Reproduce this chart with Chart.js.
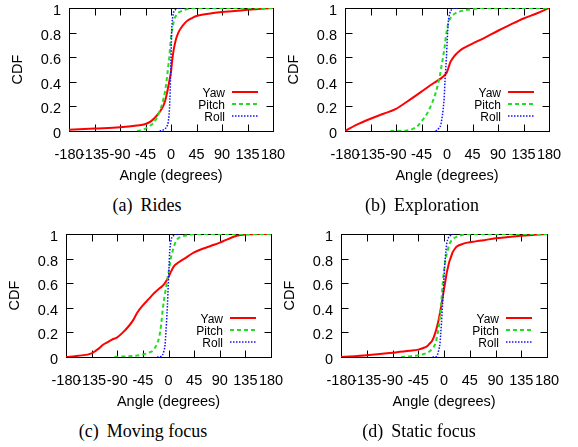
<!DOCTYPE html>
<html>
<head>
<meta charset="utf-8">
<script src="https://cdn.jsdelivr.net/npm/chart.js@4.4.1/dist/chart.umd.min.js"></script>
<style>
  body { margin: 0; background: #fff; }
  #wrap { position: relative; width: 578px; height: 447px; overflow: hidden; }
  canvas { position: absolute; }
  .cap { position: absolute; transform: translate(-50%, -50%); font: 18px 'Liberation Serif', serif; white-space: nowrap; color: #000; }
  .cap span { margin-right: 0.45em; }
</style>
</head>
<body>
<div id="wrap">
  <canvas id="rides" width="289" height="194" style="left:0px;top:-4px"></canvas>
  <canvas id="exploration" width="289" height="194" style="left:276px;top:-4px"></canvas>
  <canvas id="moving" width="290" height="194" style="left:-3px;top:222px"></canvas>
  <canvas id="static" width="291" height="194" style="left:272px;top:222px"></canvas>
  <div class="cap" style="left:147px;top:205px"><span>(a)</span>Rides</div>
  <div class="cap" style="left:422px;top:205px"><span>(b)</span>Exploration</div>
  <div class="cap" style="left:143px;top:431px"><span>(c)</span>Moving focus</div>
  <div class="cap" style="left:419px;top:431px"><span>(d)</span>Static focus</div>
</div>
<script>
const X_TICKS = [-180, -135, -90, -45, 0, 45, 90, 135, 180];
const Y_TICKS = [0, 0.2, 0.4, 0.6, 0.8, 1];
const SERIES_NAMES = ['Yaw', 'Pitch', 'Roll'];

// (a) Rides
const ridesYawDeg = [-180, -135, -90, -60, -45, -35, -26, -20, -14, -10, -7, -4, -2, 0, 2, 4, 6, 9, 13, 18, 24, 30, 38, 45, 60, 75, 90, 112, 135, 158, 180];
const ridesYawCdf = [0.01, 0.02, 0.03, 0.045, 0.057, 0.08, 0.12, 0.155, 0.2, 0.25, 0.31, 0.38, 0.43, 0.48, 0.57, 0.64, 0.69, 0.75, 0.8, 0.84, 0.875, 0.9, 0.92, 0.935, 0.95, 0.96, 0.967, 0.975, 0.985, 0.993, 1.0];
const ridesPitchDeg = [-60, -50, -45, -38, -32, -26, -20, -15, -11, -8, -5, -3, -1, 1, 3.5, 6, 9, 14, 21, 30, 40, 180];
const ridesPitchCdf = [0, 0.01, 0.02, 0.04, 0.06, 0.1, 0.16, 0.23, 0.31, 0.4, 0.52, 0.6, 0.71, 0.79, 0.86, 0.91, 0.94, 0.965, 0.98, 0.993, 1.0, 1.0];
const ridesRollDeg = [-20, -15, -10, -7, -5, -3.5, -2, -1, -0.3, 0.5, 1, 2, 3.5, 5, 7.5, 10, 15, 20];
const ridesRollCdf = [0, 0.005, 0.02, 0.04, 0.07, 0.13, 0.25, 0.4, 0.52, 0.68, 0.79, 0.88, 0.94, 0.97, 0.985, 0.995, 1.0, 1.0];

// (b) Exploration
const explYawDeg = [-180, -160, -135, -112, -90, -70, -45, -30, -20, -10, -5, 0, 3, 6, 10, 15, 22, 30, 45, 67, 90, 112, 135, 158, 180];
const explYawCdf = [0, 0.05, 0.1, 0.14, 0.18, 0.24, 0.32, 0.37, 0.4, 0.43, 0.45, 0.48, 0.52, 0.56, 0.59, 0.62, 0.65, 0.675, 0.71, 0.76, 0.815, 0.865, 0.915, 0.955, 1.0];
const explPitchDeg = [-100, -84, -70, -61, -52, -45, -38, -32, -26, -20, -16, -13, -10, -7, -4, -2, 0, 2, 5, 9, 14, 21, 30, 45, 62, 180];
const explPitchCdf = [0, 0, 0.005, 0.015, 0.04, 0.08, 0.12, 0.17, 0.23, 0.31, 0.38, 0.44, 0.52, 0.6, 0.69, 0.77, 0.82, 0.875, 0.91, 0.935, 0.955, 0.97, 0.98, 0.99, 1.0, 1.0];
const explRollDeg = [-20, -17, -14, -11, -9, -7, -5, -3.5, -2, -1, 0, 1, 2, 3.5, 5, 7, 9, 12, 15, 20];
const explRollCdf = [0, 0.01, 0.025, 0.05, 0.1, 0.17, 0.27, 0.41, 0.52, 0.6, 0.7, 0.79, 0.87, 0.93, 0.96, 0.98, 0.99, 0.997, 1, 1];

// (c) Moving focus
const movYawDeg = [-180, -158, -135, -128, -122, -115, -107, -100, -90, -80, -70, -62, -55, -45, -35, -25, -15, -8, 0, 5, 10, 18, 28, 45, 60, 75, 90, 100, 110, 120, 135, 158, 180];
const movYawCdf = [0, 0.01, 0.03, 0.05, 0.07, 0.1, 0.12, 0.14, 0.16, 0.2, 0.25, 0.3, 0.36, 0.42, 0.47, 0.52, 0.56, 0.59, 0.65, 0.7, 0.74, 0.77, 0.8, 0.85, 0.88, 0.905, 0.93, 0.95, 0.97, 0.985, 0.995, 1.0, 1.0];
const movPitchDeg = [-95, -77, -60, -45, -35, -28, -22, -19, -16, -13, -10, -8, -6, -3.5, -1, 1, 3.5, 6, 8, 12, 16, 24, 34, 45, 180];
const movPitchCdf = [0, 0.005, 0.01, 0.02, 0.035, 0.05, 0.09, 0.12, 0.17, 0.26, 0.39, 0.46, 0.52, 0.59, 0.66, 0.71, 0.79, 0.84, 0.875, 0.93, 0.96, 0.98, 0.99, 1.0, 1.0];
const movRollDeg = [-20, -13, -10, -8, -6, -5, -3.5, -2, -1, 0, 1, 2, 3.5, 5, 7, 11, 15, 20];
const movRollCdf = [0, 0.005, 0.02, 0.05, 0.1, 0.17, 0.28, 0.41, 0.52, 0.63, 0.74, 0.85, 0.92, 0.96, 0.98, 0.99, 1, 1];

// (d) Static focus
const statYawDeg = [-180, -135, -90, -60, -45, -35, -29, -25, -21, -18, -15, -12, -9, -7, -5, -2.5, 0, 2.5, 5, 7, 9, 12, 15, 19, 23, 30, 41, 55, 70, 90, 112, 135, 158, 180];
const statYawCdf = [0, 0.015, 0.035, 0.05, 0.06, 0.075, 0.09, 0.11, 0.13, 0.16, 0.2, 0.25, 0.31, 0.36, 0.41, 0.48, 0.55, 0.62, 0.69, 0.73, 0.77, 0.81, 0.85, 0.88, 0.9, 0.915, 0.93, 0.94, 0.95, 0.965, 0.975, 0.985, 0.993, 1.0];
const statPitchDeg = [-75, -65, -55, -42, -35, -29, -24, -19, -15, -12, -9, -7, -5, -3, -1, 1, 3, 6, 9, 12, 17, 23, 30, 41, 180];
const statPitchCdf = [0, 0.003, 0.008, 0.015, 0.025, 0.035, 0.05, 0.075, 0.11, 0.17, 0.25, 0.33, 0.43, 0.55, 0.66, 0.74, 0.8, 0.86, 0.91, 0.94, 0.965, 0.98, 0.99, 1.0, 1.0];
const statRollDeg = [-20, -13, -9, -7, -6, -4.5, -3, -1.5, -0.5, 0.5, 2, 3.5, 5, 7, 9, 12, 17, 20];
const statRollCdf = [0, 0.005, 0.06, 0.11, 0.17, 0.27, 0.39, 0.5, 0.6, 0.69, 0.79, 0.87, 0.93, 0.96, 0.98, 0.99, 1, 1];

const FONT = "'Liberation Sans', Arial, sans-serif";
const TICK_LEN = 7;

const STYLES = [
  { color: '#ff0000', width: 2, dash: [] },
  { color: '#22dd22', width: 2, dash: [4, 3] },
  { color: '#1010ff', width: 1.5, dash: [1.5, 1.5] },
];

function points(xs, ys) {
  return xs.map((x, i) => ({ x, y: ys[i] }));
}

// gnuplot-like frame with inward ticks on all four sides
const framePlugin = {
  id: 'frame',
  beforeDatasetsDraw(chart) {
    const { ctx, chartArea: a, scales: { x, y } } = chart;
    const l = Math.round(a.left) + 0.5, r = Math.round(a.right) + 0.5;
    const t = Math.round(a.top) + 0.5, b = Math.round(a.bottom) + 0.5;
    ctx.save();
    ctx.strokeStyle = '#000';
    ctx.lineWidth = 1;
    ctx.beginPath();
    x.ticks.forEach(tk => {
      const px = Math.round(x.getPixelForValue(tk.value)) + 0.5;
      ctx.moveTo(px, b); ctx.lineTo(px, b - TICK_LEN);
      ctx.moveTo(px, t); ctx.lineTo(px, t + TICK_LEN);
    });
    y.ticks.forEach(tk => {
      const py = Math.round(y.getPixelForValue(tk.value)) + 0.5;
      ctx.moveTo(l, py); ctx.lineTo(l + TICK_LEN, py);
      ctx.moveTo(r, py); ctx.lineTo(r - TICK_LEN, py);
    });
    ctx.stroke();
    ctx.strokeRect(l, t, r - l, b - t);
    ctx.restore();
  },
  afterDraw(chart) {
    // key in the lower right corner: label, then line sample
    const { ctx, chartArea: a } = chart;
    ctx.save();
    ctx.font = '12px ' + FONT;
    ctx.textAlign = 'right';
    ctx.textBaseline = 'middle';
    chart.data.datasets.forEach((ds, i) => {
      const rowY = a.bottom - 37 + i * 12;
      ctx.fillStyle = '#000';
      ctx.fillText(ds.label, a.right - 48, rowY);
      ctx.strokeStyle = ds.borderColor;
      ctx.lineWidth = ds.borderWidth;
      ctx.setLineDash(ds.borderDash);
      ctx.beginPath();
      ctx.moveTo(a.right - 41, rowY - 2);
      ctx.lineTo(a.right - 15, rowY - 2);
      ctx.stroke();
    });
    ctx.restore();
  }
};

function makePanel(id, series) {
  const datasets = series.map((s, i) => ({
    label: SERIES_NAMES[i],
    data: points(s[0], s[1]),
    borderColor: STYLES[i].color,
    borderWidth: STYLES[i].width,
    borderDash: STYLES[i].dash,
    pointRadius: 0,
    fill: false,
    cubicInterpolationMode: 'monotone',
    order: 3 - i,
  }));

  new Chart(document.getElementById(id), {
    type: 'line',
    data: { datasets },
    plugins: [framePlugin],
    options: {
      responsive: false,
      animation: false,
      layout: { padding: { top: 12, right: 16, left: 0, bottom: 0 } },
      plugins: { legend: { display: false }, tooltip: { enabled: false } },
      scales: {
        x: {
          type: 'linear',
          min: -180,
          max: 180,
          afterBuildTicks: s => { s.ticks = X_TICKS.map(v => ({ value: v })); },
          afterFit: s => { s.height = 59; s.paddingLeft = 0; s.paddingRight = 0; },
          grid: { display: false, drawTicks: false },
          border: { display: false },
          ticks: { autoSkip: false, maxRotation: 0, minRotation: 0, padding: 15, color: '#000', font: { family: FONT, size: 14.5 } },
          title: { display: true, text: 'Angle (degrees)', color: '#000', font: { family: FONT, size: 14.5 }, padding: { top: 0, bottom: 5.6 } },
        },
        y: {
          type: 'linear',
          min: 0,
          max: 1,
          afterBuildTicks: s => { s.ticks = Y_TICKS.map(v => ({ value: v })); },
          afterFit: s => { s.width = 69; s.paddingTop = 0; s.paddingBottom = 0; },
          grid: { display: false, drawTicks: false },
          border: { display: false },
          ticks: { padding: 8, labelOffset: 3, color: '#000', font: { family: FONT, size: 14.5 }, callback: v => String(+v.toFixed(1)) },
          title: { display: true, text: 'CDF', color: '#000', font: { family: FONT, size: 14.5 }, padding: { top: 9.6, bottom: 0 } },
        }
      }
    }
  });
}

makePanel('rides', [[ridesYawDeg, ridesYawCdf], [ridesPitchDeg, ridesPitchCdf], [ridesRollDeg, ridesRollCdf]]);
makePanel('exploration', [[explYawDeg, explYawCdf], [explPitchDeg, explPitchCdf], [explRollDeg, explRollCdf]]);
makePanel('moving', [[movYawDeg, movYawCdf], [movPitchDeg, movPitchCdf], [movRollDeg, movRollCdf]]);
makePanel('static', [[statYawDeg, statYawCdf], [statPitchDeg, statPitchCdf], [statRollDeg, statRollCdf]]);
</script>
</body>
</html>
